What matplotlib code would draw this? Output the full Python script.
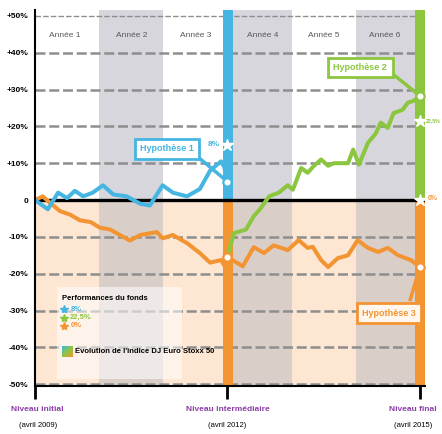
import numpy as np
import matplotlib.pyplot as plt
from matplotlib.colors import LinearSegmentedColormap

plt.rcParams['font.family'] = ['Liberation Sans', 'DejaVu Sans']

# data (years from start, performance in %)
blue_x = [0, 0.08, 0.2, 0.36, 0.5, 0.62, 0.75, 0.9, 1.06, 1.22, 1.43, 1.64, 1.79, 1.99,
          2.15, 2.37, 2.57, 2.73, 2.9, 2.95, 3.0]
blue_y = [0, -1, -2.5, 2, 0.5, 2.5, 1, 2, 4, 1.5, 1, -1, -1.5, 4,
          2, 1, 3, 8, 10.5, 9, 5]

orange1_x = [0, 0.12, 0.25, 0.39, 0.55, 0.7, 0.87, 1.01, 1.17, 1.48, 1.64, 1.9, 1.99,
             2.15, 2.37, 2.57, 2.73, 2.9, 2.96, 3.0]
orange1_y = [0, 1, -1, -3, -4, -5.5, -6, -7.5, -8, -11, -9.5, -8.7, -10.4,
             -9.5, -11.7, -14.4, -17, -16.3, -18, -15.5]

orange2_x = [3.0, 3.24, 3.41, 3.57, 3.72, 3.94, 4.11, 4.25, 4.33, 4.46, 4.57, 4.72, 4.88,
             5.03, 5.19, 5.35, 5.5, 5.66, 5.86, 6.0]
orange2_y = [-15.5, -18, -12.8, -14.4, -12.3, -13.6, -10.9, -13, -12.7, -16.3, -18.2, -15.8, -15,
             -10.9, -13, -14.1, -13, -15, -16.3, -18.2]

green_x = [3.0, 3.1, 3.29, 3.41, 3.52, 3.65, 3.8, 3.94, 4.02, 4.15, 4.25, 4.35, 4.46, 4.57,
           4.66, 4.88, 4.96, 5.05, 5.19, 5.31, 5.39, 5.5, 5.59, 5.73, 5.81, 5.91, 6.0]
green_y = [-15.5, -9, -8, -4.4, -2.2, 1, 2, 4, 2.8, 8.7, 7.4, 9.3, 11, 9.3,
           10, 10, 13.7, 9.6, 15.5, 18, 21, 19.6, 23.6, 24.5, 26.4, 27, 28.3]

yticks = [50, 40, 30, 20, 10, 0, -10, -20, -30, -40, -50]
ytick_labels = ['+50%', '+40%', '+30%', '+20%', '+10%', '0', '-10%', '-20%', '-30%', '-40%', '-50%']
years = ['Année 1', 'Année 2', 'Année 3', 'Année 4', 'Année 5', 'Année 6']
perf_labels = ['8%', '22,5%', '0%']

BLUE = '#45b5e2'
GREEN = '#8cc63f'
ORANGE = '#f39433'
PURPLE = '#8b3fa6'

fig = plt.figure(figsize=(4.42, 4.34), dpi=100)
ax = fig.add_axes([35/442, 48/434, 390/442, 376/434])
ymin, ymax = -50.5, 51.6
ax.set_xlim(0, 6.08)
ax.set_ylim(ymin, ymax)

# backgrounds
ax.fill_between([0, 6.08], ymin, 0, color='#fde6d2', lw=0, zorder=0)
for a, b in [(1, 2), (3.08, 4), (5, 5.92)]:
    ax.fill_between([a, b], 0, ymax, color='#d6d6dc', lw=0, zorder=0)
    ax.fill_between([a, b], ymin, 0, color='#dacfc8', lw=0, zorder=0)

# grid
for v in yticks:
    if v != 0:
        ax.plot([0, 5.92], [v, v], color='#8e8e8e', lw=1.8 if v != 50 else 1,
                ls=(0, (4, 1.5)), zorder=1)

# vertical bands
ax.fill_between([2.93, 3.08], 0, ymax, color=BLUE, lw=0, zorder=2)
ax.fill_between([2.93, 3.08], ymin, 0, color=ORANGE, lw=0, zorder=2)
ax.fill_between([5.92, 6.08], 0, ymax, color=GREEN, lw=0, zorder=2)
ax.fill_between([5.92, 6.08], ymin, 0, color=ORANGE, lw=0, zorder=2)

ax.axhline(0, color='black', lw=2.4, zorder=3)

# series
ax.plot(orange1_x, orange1_y, color=ORANGE, lw=2.9, zorder=4)
ax.plot(orange2_x, orange2_y, color=ORANGE, lw=2.9, zorder=4)
ax.plot(green_x, green_y, color=GREEN, lw=2.9, zorder=4)
ax.plot(blue_x, blue_y, color=BLUE, lw=2.9, zorder=5)

# hypotheses
ax.plot([2.45, 3.0], [13, 5], color=BLUE, lw=2.5, zorder=5)
ax.text(2.06, 13.9, 'Hypothèse 1', color=BLUE, fontsize=6.5, fontweight='bold',
        ha='center', va='center', zorder=6,
        bbox=dict(boxstyle='square,pad=0.6', fc='white', ec=BLUE, lw=2))
ax.plot([5.45, 6.0], [36, 28.3], color=GREEN, lw=2.5, zorder=5)
ax.text(5.07, 36, 'Hypothèse 2', color=GREEN, fontsize=6.5, fontweight='bold',
        ha='center', va='center', zorder=6,
        bbox=dict(boxstyle='square,pad=0.6', fc='white', ec=GREEN, lw=2))
ax.plot([5.85, 6.0], [-27, -18.2], color=ORANGE, lw=2.5, zorder=5)
ax.text(5.52, -30.7, 'Hypothèse 3', color=ORANGE, fontsize=6.5, fontweight='bold',
        ha='center', va='center', zorder=6,
        bbox=dict(boxstyle='square,pad=0.6', fc='#fff6ee', ec=ORANGE, lw=2))

# markers
for x, y, c in [(3.0, 4.8, BLUE), (3.0, -15.5, ORANGE), (6.0, 28.3, GREEN), (6.0, -18.2, ORANGE)]:
    ax.plot(x, y, 'o', ms=6, mfc='white', mec=c, mew=1.6, zorder=7)
for x, y in [(3.0, 15), (6.0, 21.5), (6.0, 0)]:
    ax.plot(x, y, '*', ms=9, color='white', mec='white', zorder=7)
ax.text(2.88, 15.2, perf_labels[0], color=BLUE, fontsize=6, fontweight='bold',
        ha='right', va='center', zorder=7)
ax.text(6.09, 21.5, perf_labels[1], color=GREEN, fontsize=3.8, fontweight='bold',
        ha='left', va='center', clip_on=False)
ax.text(6.12, 0.5, perf_labels[2], color=ORANGE, fontsize=5, fontweight='bold',
        ha='left', va='center', clip_on=False)

# year labels
for lab, cx in zip(years, [0.47, 1.5, 2.5, 3.55, 4.5, 5.45]):
    ax.text(cx, 44.6, lab, color='#5a5a5a', fontsize=6, ha='center', va='center', zorder=3)

# legend block
ax.fill_between([0.34, 2.29], -48.5, -23.7, color='white', alpha=0.55, lw=0, zorder=6)
ax.text(0.42, -26.8, 'Performances du fonds', fontsize=5.5, fontweight='bold',
        ha='left', va='center', zorder=7)
for i, (lab, c) in enumerate(zip(perf_labels, [BLUE, GREEN, ORANGE])):
    yy = -29.6 - i * 2.3
    ax.plot(0.45, yy, '*', ms=6, color=c, zorder=7)
    ax.text(0.55, yy, lab, color=c, fontsize=5.5, fontweight='bold',
            ha='left', va='center', zorder=7)
grad = LinearSegmentedColormap.from_list('g', [BLUE, GREEN, ORANGE])
gx, gy = np.meshgrid(np.linspace(0, 1, 20), np.linspace(0, 1, 20))
ax.imshow(gx * 0.5 + gy * 0.5, cmap=grad, extent=(0.42, 0.58, -42.6, -39.8),
          aspect='auto', zorder=7)
ax.text(0.62, -41.2, "Evolution de l'indice DJ Euro Stoxx 50", fontsize=5.5,
        fontweight='bold', ha='left', va='center', zorder=7)
ax.set_xlim(0, 6.08)
ax.set_ylim(ymin, ymax)

# axes styling
for s in ['top', 'right']:
    ax.spines[s].set_visible(False)
ax.spines['left'].set_linewidth(1.5)
ax.spines['bottom'].set_linewidth(1.5)
ax.spines['left'].set_zorder(8)
ax.spines['bottom'].set_zorder(8)
ax.set_yticks(yticks)
ax.set_yticklabels(ytick_labels, fontsize=6, fontweight='bold')
ax.tick_params(axis='y', length=0, pad=5)
ax.set_xticks([0, 3, 6])
ax.set_xticklabels([])
ax.tick_params(axis='x', length=9, width=2, direction='out')

for x, name, date in [(0.04, 'Niveau initial', '(avril 2009)'),
                      (3, 'Niveau intermédiaire', '(avril 2012)'),
                      (5.89, 'Niveau final', '(avril 2015)')]:
    ax.text(x, -57, name, color=PURPLE, fontsize=6, fontweight='bold',
            ha='center', va='center', clip_on=False)
    ax.text(x, -61.2, date, color='black', fontsize=5.5, ha='center', va='center',
            clip_on=False)

fig.savefig('out.png', dpi=100)
